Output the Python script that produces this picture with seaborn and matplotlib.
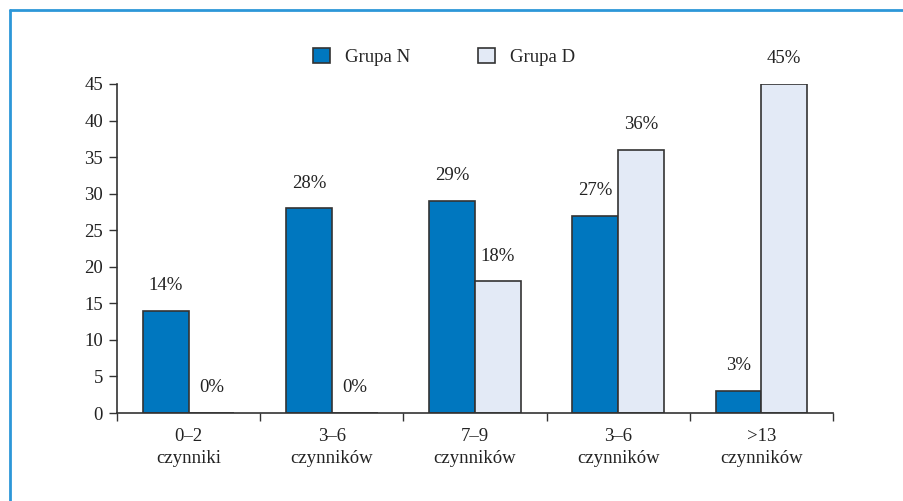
import matplotlib
matplotlib.use("Agg")
import matplotlib.pyplot as plt
import seaborn as sns
import pandas as pd
from matplotlib.lines import Line2D
from matplotlib.patches import Patch

categories = ["0–2\nczynniki", "3–6\nczynników", "7–9\nczynników", "3–6\nczynników", ">13\nczynników"]
group_names = ["Grupa N", "Grupa D"]
values_n = [14, 28, 29, 27, 3]
values_d = [0, 0, 18, 36, 45]
yticks = [0, 5, 10, 15, 20, 25, 30, 35, 40, 45]

colors = {"Grupa N": "#0077bf", "Grupa D": "#e3eaf6"}

rows = []
for i in range(len(categories)):
    rows.append({"cat": i, "grupa": group_names[0], "val": values_n[i]})
    rows.append({"cat": i, "grupa": group_names[1], "val": values_d[i]})
df = pd.DataFrame(rows)

sns.set_theme(style="white")
plt.rcParams["font.family"] = ["Liberation Serif", "DejaVu Serif"]
plt.rcParams["font.size"] = 13.5

fig = plt.figure(figsize=(9.04, 5.01), dpi=100)
ax = fig.add_axes([117/904, 1-413/501, (833-117)/904, (413-84)/501])

sns.barplot(data=df, x="cat", y="val", hue="grupa", hue_order=group_names,
            palette=colors, width=0.64, edgecolor="#333333", linewidth=1.2,
            legend=False, ax=ax, saturation=1)

for cont in ax.containers:
    labels = [f"{int(round(b.get_height()))}%" for b in cont]
    ax.bar_label(cont, labels=labels, padding=12, fontsize=13.5, color="#222222")

ax.set_xlim(-0.5, len(categories) - 0.5)
ax.set_ylim(0, 45)
ax.set_yticks(yticks)
ax.set_yticklabels([str(t) for t in yticks], fontsize=13.5, color="#222222")
ax.set_xticks([i - 0.5 for i in range(len(categories) + 1)])
ax.set_xticklabels([])
ax.set_xticks(range(len(categories)), minor=True)
ax.set_xticklabels(categories, minor=True, fontsize=13.5, color="#222222", linespacing=1.35)
ax.tick_params(axis="x", which="major", direction="out", length=6, width=1, color="#333333", bottom=True)
ax.tick_params(axis="x", which="minor", length=0, pad=11, bottom=True)
ax.tick_params(axis="y", direction="out", length=6, width=1, color="#333333", left=True, pad=4)
ax.set_xlabel("")
ax.set_ylabel("")
for s in ["top", "right"]:
    ax.spines[s].set_visible(False)
for s in ["left", "bottom"]:
    ax.spines[s].set_color("#333333")
    ax.spines[s].set_linewidth(1.2)

handles = [Patch(facecolor=colors[g], edgecolor="#333333", linewidth=1.2) for g in group_names]
fig.legend(handles, group_names, loc="center", bbox_to_anchor=(444/904, 1-57/501), ncol=2,
           frameon=False, fontsize=13.5, handlelength=0.9, handleheight=0.9,
           handletextpad=0.8, columnspacing=3.6)

# frame lines (top and left)
fig.add_artist(Line2D([10/904, 10/904], [0, 1-10/501], transform=fig.transFigure, color="#2d97d8", lw=2))
fig.add_artist(Line2D([10/904, 1], [1-10/501, 1-10/501], transform=fig.transFigure, color="#2d97d8", lw=2))

fig.savefig("out.png", dpi=100)
